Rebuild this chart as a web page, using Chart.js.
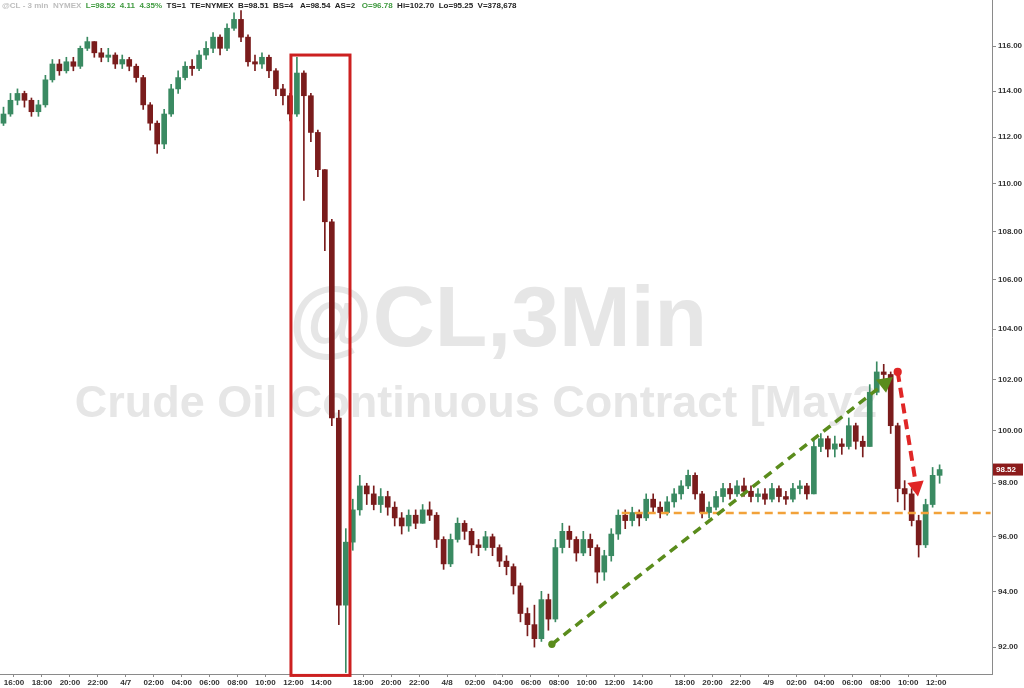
<!DOCTYPE html>
<html>
<head>
<meta charset="utf-8">
<script src="https://cdn.jsdelivr.net/npm/chart.js@4.4.1/dist/chart.umd.min.js"></script>
<style>
  html, body { margin: 0; padding: 0; background: #fff; }
  #wrap { width: 1024px; height: 688px; }
</style>
</head>
<body>
<div id="wrap"><canvas id="chart" width="1024" height="688"></canvas></div>
<script>
// 30-minute slots; CL pauses 17:00-18:00 so sessions are listed separately
const sessions = [
  { start: 15 * 60, midnight: "4/7", slots: 52 },
  { start: 18 * 60, midnight: "4/8", slots: 46 },
  { start: 18 * 60, midnight: "4/9", slots: 44 }
];
const lastTickSlot = 134; // 4/9 12:00

// Candles (30 min), open = previous close
const firstOpen = 112.6;
const closes = [
  113.0, 113.6, 113.9, 113.6, 113.1, 113.4, 114.5, 115.2, 114.9, 115.3,
  115.1, 115.9, 116.2, 115.7, 115.5, 115.6, 115.2, 115.4, 115.1, 114.6,
  113.4, 112.6, 111.7, 113.0, 114.1, 114.6, 115.1, 115.0, 115.6, 115.9,
  116.4, 115.9, 116.8, 117.2, 116.4, 115.3, 115.2, 115.5, 114.9, 114.1,
  113.8, 113.0, 114.8, 113.8, 112.2, 110.6, 108.4, 100.5, 93.5, 95.8,
  97.0, 97.9, 97.6, 97.2, 97.5, 97.1, 96.7, 96.4, 96.8, 96.5,
  97.0, 96.8, 95.9, 95.0, 95.9, 96.5, 96.2, 95.7, 95.6, 96.0,
  95.6, 95.1, 94.9, 94.2, 93.2, 92.8, 92.3, 93.7, 93.0, 95.6,
  96.2, 95.9, 95.4, 95.9, 95.6, 94.7, 95.3, 96.1, 96.8, 96.6,
  96.9, 96.7, 97.4, 97.1, 96.9, 97.3, 97.6, 97.9, 98.3, 97.6,
  96.9, 97.1, 97.5, 97.8, 97.6, 97.9, 97.7, 97.5, 97.6, 97.4,
  97.8, 97.5, 97.4, 97.8, 97.9, 97.6, 99.4, 99.7, 99.3, 99.5,
  99.4, 100.2, 99.6, 99.4, 101.5, 102.3, 102.2, 100.2, 97.8, 97.6,
  96.6, 95.7, 97.2, 98.3, 98.52
];
const highs = [
  113.3, 113.9, 114.1, 114.0, 113.7, 113.6, 114.7, 115.4, 115.4, 115.5,
  115.5, 116.0, 116.4, 116.2, 115.9, 115.9, 115.7, 115.6, 115.5, 115.2,
  114.7, 113.5, 112.7, 113.2, 114.3, 114.9, 115.3, 115.4, 115.8, 116.2,
  116.6, 116.5, 117.0, 117.5, 117.6, 116.5, 115.6, 115.7, 115.6, 115.0,
  114.3, 113.9, 115.5, 114.9, 113.9, 112.3, 110.6, 108.5, 100.8, 96.3,
  97.4, 98.3, 98.0, 97.9, 97.8, 97.7, 97.3, 96.9, 97.0, 97.0,
  97.2, 97.3, 96.9, 96.0, 96.1, 96.7, 96.6, 96.3, 95.9, 96.2,
  96.1, 95.7, 95.3, 95.0, 94.3, 93.4, 93.5, 94.0, 93.9, 95.9,
  96.5, 96.4, 96.0, 96.2, 96.1, 95.7, 95.5, 96.3, 97.0, 97.0,
  97.1, 97.0, 97.6, 97.6, 97.3, 97.5, 97.8, 98.1, 98.5, 98.4,
  97.7, 97.3, 97.7, 98.0, 98.0, 98.1, 98.2, 97.9, 97.8, 97.8,
  98.0, 97.9, 97.7, 98.0, 98.1, 98.0, 99.7, 99.9, 99.8, 99.8,
  99.7, 100.5, 100.3, 99.8, 101.8, 102.7, 102.6, 102.3, 100.3, 98.1,
  97.8, 96.8, 97.4, 98.6, 98.7
];
const lows = [
  112.5, 112.9, 113.4, 113.3, 112.9, 112.9, 113.3, 114.4, 114.7, 114.8,
  114.9, 115.0, 115.8, 115.5, 115.3, 115.3, 115.0, 115.0, 114.9, 114.4,
  113.2, 112.3, 111.3, 111.5, 112.9, 113.9, 114.5, 114.7, 114.9, 115.4,
  115.7, 115.6, 115.8, 116.7, 116.2, 115.1, 114.9, 115.0, 114.6, 113.8,
  113.4, 112.7, 112.9, 109.3, 111.8, 110.3, 107.2, 100.2, 92.8, 91.1,
  95.5, 96.8, 97.2, 97.0, 96.9, 96.8, 96.4, 96.1, 96.2, 96.3,
  96.5, 96.6, 95.6, 94.8, 94.9, 95.8, 95.9, 95.4, 95.3, 95.5,
  95.3, 94.9, 94.6, 93.9, 92.9, 92.4, 92.0, 92.2, 92.6, 92.9,
  95.4, 95.6, 95.1, 95.3, 95.3, 94.3, 94.4, 95.1, 95.9, 96.3,
  96.4, 96.4, 96.6, 96.9, 96.7, 96.8, 97.1, 97.4, 97.8, 97.4,
  96.7, 96.7, 97.0, 97.3, 97.4, 97.5, 97.5, 97.3, 97.3, 97.2,
  97.3, 97.3, 97.2, 97.3, 97.6, 97.4, 97.6, 99.2, 99.0, 99.0,
  99.1, 99.3, 99.3, 99.0, 99.4, 101.4, 101.8, 99.9, 97.3, 97.0,
  96.4, 95.25, 95.6, 97.1, 98.0
];

const yTicks = [92, 94, 96, 98, 100, 102, 104, 106, 108, 110, 112, 114, 116];
const yMin = 91.05;
const yMax = 118.08;

// Annotations in (slot, price)
const boxArea = { from: 41.15, to: 49.6, top: 115.6, bottom: 91.0 };
const upArrow = { from: [78.5, 92.1], to: [127.3, 102.1] };
const downArrow = { from: [128.0, 102.3], to: [130.9, 97.5] };
const supportLine = { from: 88.5, to: 141.3, price: 96.88 };

const watermarkTitle = "@CL,3Min";
const watermarkSub = "Crude Oil Continuous Contract [May26]";
const headerParts = [
  ["@CL - 3 min  NYMEX  ", "#bdbdbd"],
  ["L=98.52  4.11  4.35%  ", "#3f9a3f"],
  ["TS=1  TE=NYMEX  B=98.51  BS=4   A=98.54  AS=2   ", "#222"],
  ["O=96.78  ", "#3f9a3f"],
  ["Hi=102.70  Lo=95.25  V=378,678", "#222"]
];

const FONT = "'Liberation Sans', Arial, sans-serif";
const upColor = "#3a8a62";
const downColor = "#7a1c1c";

// Build category labels
const categories = [];
sessions.forEach(s => {
  for (let k = 0; k < s.slots; k++) {
    const m = (s.start + k * 30) % 1440;
    const hh = String(Math.floor(m / 60)).padStart(2, "0");
    const mm = String(m % 60).padStart(2, "0");
    categories.push(m === 0 ? s.midnight : hh + ":" + mm);
  }
});

const opens = closes.map((c, i) => i === 0 ? firstOpen : closes[i - 1]);
const candleColors = closes.map((c, i) => c >= opens[i] ? upColor : downColor);

// Ticks every 2 hours, at the slot's left edge
const xTickSlots = [];
categories.forEach((c, i) => {
  if (i > lastTickSlot) return;
  if (c.includes("/")) { xTickSlots.push(i); return; }
  const [h, m] = c.split(":").map(Number);
  if (m === 0 && h % 2 === 0) xTickSlots.push(i);
});

function xTickText(i) {
  const c = categories[i];
  if (c === "16:00" && categories[i + 2] === "18:00") return "";
  return c;
}

function drawArrow(ctx, a, b, color, width, dash, head) {
  const ang = Math.atan2(b[1] - a[1], b[0] - a[0]);
  const cos = Math.cos(ang), sin = Math.sin(ang);
  ctx.strokeStyle = color;
  ctx.fillStyle = color;
  ctx.lineWidth = width;
  ctx.setLineDash(dash);
  ctx.beginPath();
  ctx.moveTo(a[0], a[1]);
  ctx.lineTo(b[0] - cos * head * 0.8, b[1] - sin * head * 0.8);
  ctx.stroke();
  ctx.setLineDash([]);
  ctx.beginPath();
  ctx.arc(a[0], a[1], width * 0.9 + 0.5, 0, Math.PI * 2);
  ctx.fill();
  const bx = b[0] - cos * head, by = b[1] - sin * head;
  ctx.beginPath();
  ctx.moveTo(b[0], b[1]);
  ctx.lineTo(bx + sin * head * 0.55, by - cos * head * 0.55);
  ctx.lineTo(bx - sin * head * 0.55, by + cos * head * 0.55);
  ctx.closePath();
  ctx.fill();
}

const overlay = {
  id: "overlay",
  beforeDatasetsDraw(chart) {
    const { ctx, chartArea } = chart;
    const cx = (chartArea.left + chartArea.right) / 2;
    ctx.save();
    ctx.fillStyle = "#e6e6e6";
    ctx.textAlign = "center";
    ctx.textBaseline = "alphabetic";
    ctx.font = "bold 86px " + FONT;
    ctx.fillText(watermarkTitle, cx + 2, 346);
    ctx.beginPath();
    ctx.rect(0, 360, 876, 80);
    ctx.clip();
    ctx.font = "bold 45px " + FONT;
    ctx.fillText(watermarkSub, cx, 417);
    ctx.restore();
  },
  afterDraw(chart) {
    const { ctx, chartArea } = chart;
    const xs = chart.scales.x, ys = chart.scales.y;
    const P = (i, p) => [xs.getPixelForValue(i), ys.getPixelForValue(p)];
    ctx.save();

    // red box around the crash
    const tl = P(boxArea.from, boxArea.top);
    const br = P(boxArea.to, boxArea.bottom);
    ctx.strokeStyle = "#cc2020";
    ctx.lineWidth = 3;
    ctx.strokeRect(tl[0], tl[1], br[0] - tl[0], br[1] - tl[1]);

    // orange support line
    const s0 = P(supportLine.from, supportLine.price);
    const s1 = P(supportLine.to, supportLine.price);
    ctx.strokeStyle = "#f2a23a";
    ctx.lineWidth = 2.5;
    ctx.setLineDash([8, 5]);
    ctx.beginPath();
    ctx.moveTo(s0[0], s0[1]);
    ctx.lineTo(s1[0], s1[1]);
    ctx.stroke();
    ctx.setLineDash([]);

    drawArrow(ctx, P(...upArrow.from), P(...upArrow.to), "#5a8c1c", 3.5, [9, 6], 15);
    drawArrow(ctx, P(...downArrow.from), P(...downArrow.to), "#e02626", 4, [10, 6], 15);

    // last price tag
    const last = closes[closes.length - 1];
    const ty = ys.getPixelForValue(last);
    ctx.fillStyle = "#8c1c1c";
    ctx.fillRect(chartArea.right + 1, ty - 6, 30, 12);
    ctx.fillStyle = "#fff";
    ctx.font = "bold 8px " + FONT;
    ctx.textAlign = "left";
    ctx.textBaseline = "middle";
    ctx.fillText(last.toFixed(2), chartArea.right + 4, ty);

    // header line
    ctx.font = "bold 8px " + FONT;
    let hx = 2;
    headerParts.forEach(([t, col]) => {
      ctx.fillStyle = col;
      ctx.fillText(t, hx, 6);
      hx += ctx.measureText(t).width;
    });
    ctx.restore();
  }
};

const ctx = document.getElementById("chart").getContext("2d");
new Chart(ctx, {
  type: "bar",
  data: {
    labels: categories,
    datasets: [
      {
        label: "body",
        data: closes.map((c, i) => [opens[i], c]),
        backgroundColor: candleColors,
        barThickness: 5,
        grouped: false,
        order: 0
      },
      {
        label: "wick",
        data: closes.map((c, i) => [lows[i], highs[i]]),
        backgroundColor: candleColors,
        barThickness: 1,
        grouped: false,
        order: 1
      }
    ]
  },
  options: {
    responsive: false,
    animation: false,
    layout: { padding: 0 },
    plugins: { legend: { display: false }, tooltip: { enabled: false } },
    scales: {
      x: {
        type: "category",
        offset: true,
        grid: { drawOnChartArea: false, offset: false, tickLength: 3, color: "#8a8a8a" },
        border: { color: "#8a8a8a" },
        ticks: {
          autoSkip: false, maxRotation: 0, minRotation: 0, padding: 1,
          color: "#333", font: { family: FONT, size: 8, weight: "bold" },
          callback: v => xTickText(Math.round(v + 0.5))
        },
        afterBuildTicks: s => { s.ticks = xTickSlots.map(i => ({ value: i - 0.5 })); },
        afterFit: s => { s.height = 14; s.paddingLeft = 0; s.paddingRight = 0; }
      },
      y: {
        type: "logarithmic",
        position: "right",
        min: yMin,
        max: yMax,
        grid: { drawOnChartArea: false, tickLength: 4, color: "#8a8a8a" },
        border: { color: "#8a8a8a" },
        ticks: {
          padding: 2, color: "#333", font: { family: FONT, size: 8, weight: "bold" },
          callback: v => Number(v).toFixed(2)
        },
        afterBuildTicks: s => { s.ticks = yTicks.map(v => ({ value: v })); },
        afterFit: s => { s.width = 32; s.paddingTop = 0; s.paddingBottom = 0; }
      }
    }
  },
  plugins: [overlay]
});
</script>
</body>
</html>
